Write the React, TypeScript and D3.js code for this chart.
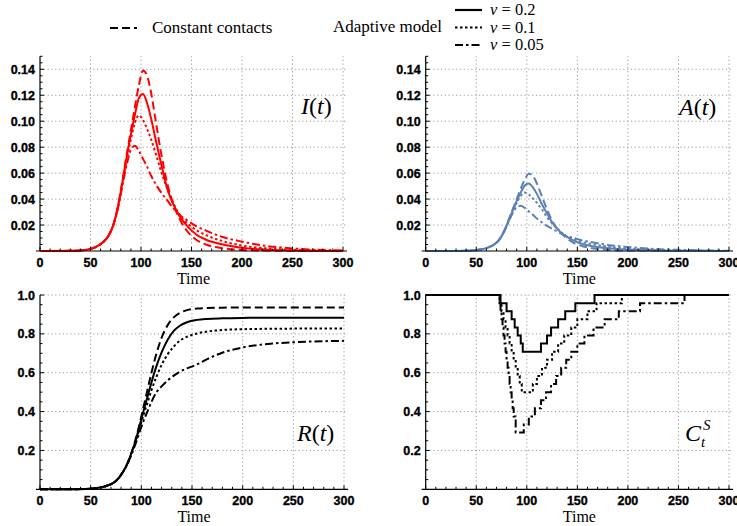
import React from 'react';
import * as d3 from 'd3';

// sample times (days) for the smooth curves
const times = [0, 30, 45, 55, 62, 68, 73, 78, 82, 86, 90, 94, 98, 102, 106, 110, 115, 120, 126, 132, 138, 145, 155, 165, 180, 200, 225, 250, 300];

// I(t)
const iConstant = [0, 0.0001, 0.0008, 0.003, 0.0065, 0.012, 0.021, 0.038, 0.056, 0.075, 0.093, 0.111, 0.128, 0.139, 0.135, 0.122, 0.098, 0.075, 0.052, 0.036, 0.025, 0.016, 0.0085, 0.0048, 0.0022, 0.0008, 0.0003, 0.0001, 0];
const iNu02 = [0, 0.0001, 0.0008, 0.003, 0.0065, 0.012, 0.021, 0.037, 0.055, 0.073, 0.09, 0.105, 0.118, 0.121, 0.114, 0.102, 0.084, 0.067, 0.048, 0.036, 0.027, 0.02, 0.0125, 0.0085, 0.0052, 0.0025, 0.001, 0.0004, 0];
const iNu01 = [0, 0.0001, 0.0008, 0.003, 0.0065, 0.012, 0.021, 0.037, 0.054, 0.071, 0.086, 0.099, 0.1045, 0.101, 0.094, 0.086, 0.074, 0.061, 0.048, 0.037, 0.028, 0.022, 0.016, 0.012, 0.0078, 0.0042, 0.002, 0.0009, 0.0001];
const iNu005 = [0, 0.0001, 0.0008, 0.003, 0.0065, 0.012, 0.021, 0.036, 0.052, 0.067, 0.078, 0.081, 0.077, 0.071, 0.065, 0.058, 0.051, 0.045, 0.039, 0.033, 0.028, 0.024, 0.019, 0.0155, 0.011, 0.0072, 0.0038, 0.002, 0.0004];

// A(t)
const aConstant = [0, 0, 0.0003, 0.0013, 0.0028, 0.0052, 0.009, 0.016, 0.024, 0.032, 0.04, 0.048, 0.055, 0.0595, 0.058, 0.052, 0.042, 0.032, 0.022, 0.0155, 0.0107, 0.0069, 0.0037, 0.0021, 0.001, 0.0003, 0.0001, 0, 0];
const aNu02 = [0, 0, 0.0003, 0.0013, 0.0028, 0.0052, 0.009, 0.016, 0.0235, 0.031, 0.0385, 0.045, 0.0505, 0.052, 0.049, 0.044, 0.036, 0.029, 0.021, 0.0155, 0.0117, 0.0086, 0.0054, 0.0037, 0.0022, 0.0011, 0.0004, 0.0002, 0];
const aNu01 = [0, 0, 0.0003, 0.0013, 0.0028, 0.0052, 0.009, 0.016, 0.023, 0.0305, 0.037, 0.0425, 0.045, 0.0435, 0.0405, 0.037, 0.032, 0.026, 0.0205, 0.016, 0.012, 0.0095, 0.0069, 0.0052, 0.0034, 0.0018, 0.0009, 0.0004, 0];
const aNu005 = [0, 0, 0.0003, 0.0013, 0.0028, 0.0052, 0.009, 0.0155, 0.0225, 0.029, 0.0338, 0.0348, 0.0332, 0.0305, 0.028, 0.025, 0.022, 0.0194, 0.0168, 0.0142, 0.012, 0.0103, 0.0082, 0.0067, 0.0047, 0.0031, 0.0016, 0.0009, 0.0002];

// R(t)
const rConstant = [0, 0.0005, 0.002, 0.006, 0.012, 0.022, 0.035, 0.06, 0.09, 0.13, 0.185, 0.25, 0.33, 0.42, 0.51, 0.6, 0.7, 0.78, 0.845, 0.885, 0.908, 0.922, 0.93, 0.933, 0.935, 0.936, 0.936, 0.936, 0.936];
const rNu02 = [0, 0.0005, 0.002, 0.006, 0.012, 0.022, 0.035, 0.06, 0.09, 0.13, 0.183, 0.245, 0.32, 0.4, 0.475, 0.55, 0.635, 0.705, 0.77, 0.815, 0.842, 0.86, 0.872, 0.877, 0.88, 0.882, 0.883, 0.883, 0.883];
const rNu01 = [0, 0.0005, 0.002, 0.006, 0.012, 0.022, 0.035, 0.06, 0.09, 0.13, 0.18, 0.24, 0.31, 0.38, 0.445, 0.51, 0.58, 0.64, 0.695, 0.735, 0.765, 0.785, 0.802, 0.812, 0.82, 0.824, 0.826, 0.827, 0.828];
const rNu005 = [0, 0.0005, 0.002, 0.006, 0.012, 0.022, 0.035, 0.06, 0.09, 0.128, 0.175, 0.23, 0.29, 0.35, 0.4, 0.45, 0.5, 0.53, 0.56, 0.585, 0.605, 0.622, 0.643, 0.67, 0.703, 0.73, 0.748, 0.757, 0.764];

// C_t^S step functions: time of each change and the level after it
const cNu02Times = [0, 74, 80, 85, 88, 91, 94, 96, 114, 120, 124, 131, 138, 148, 167];
const cNu02Levels = [1, 0.958, 0.917, 0.875, 0.833, 0.792, 0.75, 0.708, 0.75, 0.792, 0.833, 0.875, 0.917, 0.958, 1];
const cNu01Times = [0, 73, 75, 77, 79, 81, 83, 85, 87, 89, 91, 93, 95, 106, 110, 115, 120, 125, 131, 137, 144, 150, 160, 169, 194];
const cNu01Levels = [1, 0.958, 0.917, 0.875, 0.833, 0.792, 0.75, 0.708, 0.667, 0.625, 0.583, 0.542, 0.5, 0.542, 0.583, 0.625, 0.667, 0.708, 0.75, 0.792, 0.833, 0.875, 0.917, 0.958, 1];
const cNu005Times = [0, 73, 74, 75, 76, 77, 78, 79, 80, 81, 82, 83, 84, 85, 86, 87, 89, 97, 102, 108, 114, 119, 124, 129, 134, 139, 144, 150, 157, 166, 177, 191, 212, 256];
const cNu005Levels = [1, 0.958, 0.917, 0.875, 0.833, 0.792, 0.75, 0.708, 0.667, 0.625, 0.583, 0.542, 0.5, 0.458, 0.417, 0.375, 0.292, 0.333, 0.375, 0.417, 0.458, 0.5, 0.542, 0.583, 0.625, 0.667, 0.708, 0.75, 0.792, 0.833, 0.875, 0.917, 0.958, 1];

const xTickValues = [0, 50, 100, 150, 200, 250, 300];
const yTicksTop = [0.02, 0.04, 0.06, 0.08, 0.1, 0.12, 0.14];
const yTicksBottom = [0.2, 0.4, 0.6, 0.8, 1.0];

const legendNu = ['0.2', '0.1', '0.05'];

const RED = '#ff0000';
const BLUE = '#5e81b5';
const DASH = { constant: '8,4', nu02: undefined, nu01: '2.5,2.5', nu005: '8,3,2.5,3' };

const serif = '"Liberation Serif", "Times New Roman", serif';
const sans = '"Liberation Sans", Arial, sans-serif';

type Scale = d3.ScaleLinear<number, number>;

function Panel(props: {
  left: number; right: number; top: number; bottom: number; yMax: number;
  yTicks: number[]; yMinorStep: number; yFormat: (v: number) => string;
  render: (x: Scale, y: Scale) => React.ReactNode;
}) {
  const { left, right, top, bottom, yMax, yTicks, yMinorStep, yFormat, render } = props;
  const x = d3.scaleLinear().domain([0, 300]).range([left, right]);
  const y = d3.scaleLinear().domain([0, yMax]).range([bottom, top]);
  const xMinor = d3.range(10, 301, 10).filter(t => t % 50 !== 0);
  const yMinor = d3.range(yMinorStep, yMax + 1e-9, yMinorStep)
    .filter(v => !yTicks.some(t => Math.abs(t - v) < 1e-9));
  const gridStyle = { stroke: '#9a9a9a', strokeWidth: 1, strokeDasharray: '1.2,2.6' };
  const labelStyle = { fontFamily: sans, fontWeight: 'bold' as const, fontSize: 12.5, stroke: '#000', strokeWidth: 0.35 };
  return (
    <g>
      {xTickValues.filter(t => t > 0).map(t => (
        <line key={'gx' + t} x1={x(t)} x2={x(t)} y1={y(0)} y2={y(yMax)} {...gridStyle} />
      ))}
      {yTicks.map(v => (
        <line key={'gy' + v} x1={x(0)} x2={x(304)} y1={y(v)} y2={y(v)} {...gridStyle} />
      ))}
      {render(x, y)}
      <line x1={x(-4)} x2={x(304)} y1={y(0)} y2={y(0)} stroke="#000" strokeWidth={1.2} />
      <line x1={x(0)} x2={x(0)} y1={y(0)} y2={y(yMax)} stroke="#000" strokeWidth={1.2} />
      {xTickValues.map(t => (
        <line key={'xt' + t} x1={x(t)} x2={x(t)} y1={y(0)} y2={y(0) - 4} stroke="#000" />
      ))}
      {xMinor.map(t => (
        <line key={'xm' + t} x1={x(t)} x2={x(t)} y1={y(0)} y2={y(0) - 2.5} stroke="#000" />
      ))}
      {yTicks.map(v => (
        <line key={'yt' + v} x1={x(0)} x2={x(0) + 4} y1={y(v)} y2={y(v)} stroke="#000" />
      ))}
      {yMinor.map(v => (
        <line key={'ym' + v} x1={x(0)} x2={x(0) + 2.5} y1={y(v)} y2={y(v)} stroke="#000" />
      ))}
      {xTickValues.map(t => (
        <text key={'xl' + t} x={x(t)} y={y(0) + 15.5} textAnchor="middle" {...labelStyle}>{t}</text>
      ))}
      {yTicks.map(v => (
        <text key={'yl' + v} x={x(0) - 5} y={y(v)} dy="0.36em" textAnchor="end" {...labelStyle}>{yFormat(v)}</text>
      ))}
      <text x={(x(0) + x(300)) / 2 + 2} y={y(0) + 33} textAnchor="middle"
        fontFamily={serif} fontSize={16}>Time</text>
    </g>
  );
}

function smoothLines(x: Scale, y: Scale, sets: { values: number[]; dash?: string }[], color: string) {
  const line = d3.line<number>()
    .x((_, i) => x(times[i]))
    .y(d => y(d))
    .curve(d3.curveMonotoneX);
  return sets.map((s, k) => (
    <path key={k} d={line(s.values) || ''} fill="none" stroke={color} strokeWidth={2}
      strokeDasharray={s.dash} />
  ));
}

function stepLines(x: Scale, y: Scale, sets: { t: number[]; v: number[]; dash?: string }[]) {
  const line = d3.line<[number, number]>()
    .x(d => x(d[0]))
    .y(d => y(d[1]))
    .curve(d3.curveStepAfter);
  return sets.map((s, k) => {
    const pts: [number, number][] = s.t.map((t, i) => [t, s.v[i]]);
    pts.push([300, s.v[s.v.length - 1]]);
    return (
      <path key={k} d={line(pts) || ''} fill="none" stroke="#000" strokeWidth={2}
        strokeDasharray={s.dash} />
    );
  });
}

export default function App() {
  const fmtTop = d3.format('.2f');
  const fmtBottom = d3.format('.1f');
  const legendDashes = [DASH.nu02, DASH.nu01, DASH.nu005];
  return (
    <svg width={737} height={526} style={{ position: 'absolute', left: 0, top: 0, background: '#fff' }}>
      {/* legend */}
      <line x1={110} x2={137} y1={28} y2={28} stroke="#000" strokeWidth={2.2} strokeDasharray={DASH.constant} />
      <text x={152} y={33} fontFamily={serif} fontSize={17}>Constant contacts</text>
      <text x={333} y={32} fontFamily={serif} fontSize={17}>Adaptive model</text>
      {legendNu.map((nu, i) => (
        <g key={nu}>
          <line x1={455} x2={482} y1={10 + i * 17.5} y2={10 + i * 17.5} stroke="#000" strokeWidth={2.2}
            strokeDasharray={legendDashes[i]} />
          <text x={490} y={15 + i * 17.5} fontFamily={serif} fontSize={16.5}>
            <tspan fontStyle="italic">ν</tspan> = {nu}
          </text>
        </g>
      ))}

      <Panel left={40} right={343} top={56.3} bottom={251} yMax={0.15} yTicks={yTicksTop}
        yMinorStep={0.005} yFormat={fmtTop}
        render={(x, y) => smoothLines(x, y, [
          { values: iConstant, dash: DASH.constant },
          { values: iNu02, dash: DASH.nu02 },
          { values: iNu01, dash: DASH.nu01 },
          { values: iNu005, dash: DASH.nu005 },
        ], RED)} />
      <text x={301} y={114} fontFamily={serif} fontSize={24}>
        <tspan fontStyle="italic">I</tspan>(<tspan fontStyle="italic">t</tspan>)
      </text>

      <Panel left={425.7} right={729} top={56.3} bottom={251} yMax={0.15} yTicks={yTicksTop}
        yMinorStep={0.005} yFormat={fmtTop}
        render={(x, y) => smoothLines(x, y, [
          { values: aConstant, dash: DASH.constant },
          { values: aNu02, dash: DASH.nu02 },
          { values: aNu01, dash: DASH.nu01 },
          { values: aNu005, dash: DASH.nu005 },
        ], BLUE)} />
      <text x={679} y={115} fontFamily={serif} fontSize={24}>
        <tspan fontStyle="italic">A</tspan>(<tspan fontStyle="italic">t</tspan>)
      </text>

      <Panel left={40} right={344} top={295} bottom={489.3} yMax={1} yTicks={yTicksBottom}
        yMinorStep={0.05} yFormat={fmtBottom}
        render={(x, y) => smoothLines(x, y, [
          { values: rConstant, dash: DASH.constant },
          { values: rNu02, dash: DASH.nu02 },
          { values: rNu01, dash: DASH.nu01 },
          { values: rNu005, dash: DASH.nu005 },
        ], '#000')} />
      <text x={297} y={441} fontFamily={serif} fontSize={24}>
        <tspan fontStyle="italic">R</tspan>(<tspan fontStyle="italic">t</tspan>)
      </text>

      <Panel left={425.7} right={729} top={295} bottom={489.3} yMax={1} yTicks={yTicksBottom}
        yMinorStep={0.05} yFormat={fmtBottom}
        render={(x, y) => stepLines(x, y, [
          { t: cNu005Times, v: cNu005Levels, dash: DASH.nu005 },
          { t: cNu01Times, v: cNu01Levels, dash: DASH.nu01 },
          { t: cNu02Times, v: cNu02Levels, dash: DASH.nu02 },
        ])} />
      <text x={685} y={441} fontFamily={serif} fontSize={24} fontStyle="italic">C</text>
      <text x={703} y={430} fontFamily={serif} fontSize={15} fontStyle="italic">S</text>
      <text x={701} y={447} fontFamily={serif} fontSize={15} fontStyle="italic">t</text>
    </svg>
  );
}
